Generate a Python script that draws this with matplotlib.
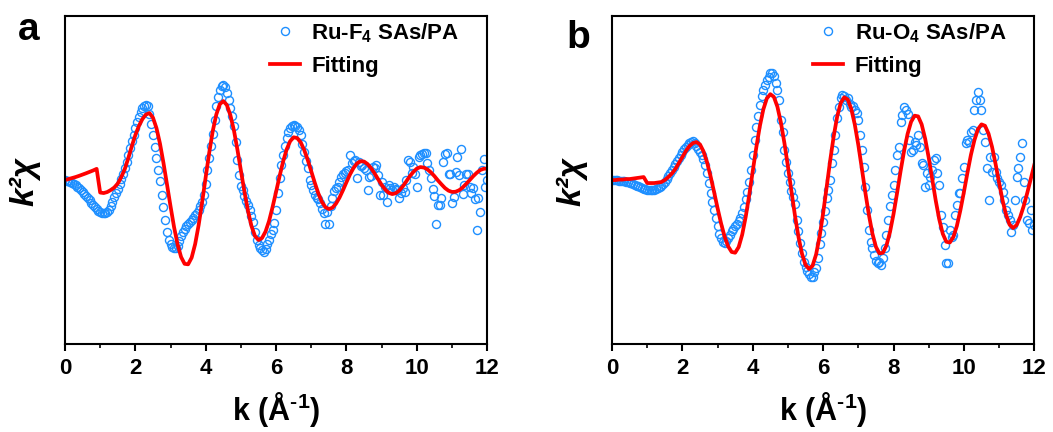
import numpy as np
import matplotlib
matplotlib.use("Agg")
import matplotlib.pyplot as plt

plt.rcParams['font.family'] = ['Liberation Sans', 'DejaVu Sans']
plt.rcParams['font.weight'] = 'bold'
plt.rcParams['mathtext.fontset'] = 'custom'
plt.rcParams['mathtext.rm'] = 'Liberation Sans:bold'
plt.rcParams['mathtext.it'] = 'Liberation Sans:italic:bold'
plt.rcParams['mathtext.bf'] = 'Liberation Sans:bold'

# k grids (data every 0.05, fit every 0.1)
k_data = np.arange(241) / 20
k_fit = np.arange(121) / 10

# panel a : Ru-F4 SAs/PA
data_a = [
    0.00, -0.005, -0.01, -0.02, -0.03, -0.04, -0.05, -0.065, -0.08, -0.10, -0.12, -0.14, -0.16, -0.18, -0.20, -0.225, -0.25, -0.27, -0.29, -0.305,
    -0.315, -0.325, -0.33, -0.33, -0.32, -0.30, -0.26, -0.22, -0.17, -0.13, -0.09, -0.04, 0.01, 0.06, 0.12, 0.18, 0.25, 0.32, 0.39, 0.45,
    0.52, 0.58, 0.63, 0.68, 0.72, 0.74, 0.75, 0.74, 0.66, 0.56, 0.45, 0.33, 0.22, 0.10, -0.01, -0.15, -0.27, -0.40, -0.52, -0.60,
    -0.64, -0.67, -0.68, -0.68, -0.66, -0.61, -0.56, -0.52, -0.49, -0.46, -0.44, -0.42, -0.40, -0.38, -0.35, -0.33, -0.30, -0.26, -0.22, -0.15,
    -0.04, 0.10, 0.22, 0.34, 0.46, 0.60, 0.74, 0.83, 0.90, 0.94, 0.95, 0.93, 0.87, 0.80, 0.72, 0.64, 0.54, 0.38, 0.20, 0.05,
    -0.06, -0.10, -0.16, -0.21, -0.25, -0.30, -0.36, -0.42, -0.52, -0.60, -0.65, -0.68, -0.70, -0.72, -0.69, -0.64, -0.60, -0.54, -0.50, -0.43,
    -0.30, -0.13, 0.02, 0.15, 0.25, 0.34, 0.42, 0.48, 0.52, 0.54, 0.55, 0.54, 0.53, 0.50, 0.45, 0.36, 0.28, 0.19, 0.12, 0.00,
    -0.05, -0.10, -0.15, -0.18, -0.19, -0.23, -0.29, -0.33, -0.44, -0.32, -0.44, -0.26, -0.18, -0.11, -0.08, -0.07, -0.02, 0.03, 0.06, 0.07,
    0.09, 0.10, 0.25, 0.17, 0.19, 0.20, 0.02, 0.18, 0.14, 0.15, 0.12, 0.10, -0.10, 0.03, 0.04, 0.13, 0.12, 0.15, 0.05, -0.15,
    -0.02, -0.15, -0.07, -0.22, -0.05, -0.08, -0.10, -0.07, -0.09, -0.10, -0.18, -0.13, -0.08, -0.12, 0.00, 0.20, 0.18, 0.07, 0.13, 0.06,
    -0.07, 0.23, 0.25, 0.26, 0.27, 0.27, 0.17, 0.10, 0.02, -0.09, -0.16, -0.44, -0.25, -0.25, -0.18, 0.18, 0.26, 0.27, 0.06, 0.06,
    -0.23, -0.17, 0.08, 0.23, 0.05, 0.31, -0.14, -0.05, 0.06, 0.06, -0.07, -0.13, -0.08, -0.19, -0.50, -0.18, -0.32, 0.10, 0.21, -0.07,
    0.00,
]
fit_a = [
    0.000, 0.010, 0.020, 0.030, 0.042, 0.055, 0.068, 0.082, 0.096, 0.112,
    -0.125, -0.130, -0.120, -0.100, -0.075, -0.035, 0.030, 0.110, 0.220, 0.340,
    0.450, 0.540, 0.610, 0.655, 0.670, 0.625, 0.520, 0.365, 0.170, -0.045,
    -0.263, -0.470, -0.643, -0.770, -0.838, -0.843, -0.776, -0.640, -0.448, -0.217,
    0.032, 0.275, 0.490, 0.655, 0.759, 0.790, 0.751, 0.650, 0.500, 0.306,
    0.095, -0.116, -0.307, -0.460, -0.560, -0.600, -0.580, -0.515, -0.410, -0.270,
    -0.117, 0.040, 0.186, 0.307, 0.389, 0.428, 0.420, 0.377, 0.300, 0.200,
    0.087, -0.028, -0.133, -0.217, -0.271, -0.290, -0.277, -0.237, -0.177, -0.102,
    -0.021, 0.056, 0.121, 0.167, 0.189, 0.185, 0.160, 0.119, 0.066, 0.008,
    -0.049, -0.095, -0.128, -0.140, -0.132, -0.105, -0.063, -0.013, 0.039, 0.081,
    0.115, 0.130, 0.125, 0.107, 0.077, 0.039, -0.004, -0.043, -0.080, -0.106,
    -0.119, -0.117, -0.102, -0.075, -0.039, -0.001, 0.038, 0.072, 0.100, 0.113,
    0.115,
]

# panel b : Ru-O4 SAs/PA
data_b = [
    0.00, 0.00, 0.00, 0.00, -0.005, -0.005, -0.01, -0.01, -0.015, -0.02, -0.025, -0.03, -0.035, -0.045, -0.055, -0.06, -0.07, -0.08, -0.085, -0.09,
    -0.095, -0.10, -0.10, -0.10, -0.095, -0.09, -0.08, -0.07, -0.055, -0.04, -0.02, 0.01, 0.04, 0.07, 0.10, 0.13, 0.16, 0.19, 0.22, 0.25,
    0.28, 0.31, 0.33, 0.35, 0.37, 0.385, 0.39, 0.37, 0.34, 0.31, 0.28, 0.25, 0.21, 0.15, 0.07, -0.03, -0.13, -0.22, -0.30, -0.38,
    -0.46, -0.54, -0.58, -0.62, -0.63, -0.61, -0.58, -0.55, -0.51, -0.49, -0.46, -0.44, -0.41, -0.38, -0.33, -0.27, -0.19, -0.12, -0.02, 0.10,
    0.25, 0.40, 0.53, 0.64, 0.75, 0.84, 0.90, 0.95, 1.00, 1.03, 1.07, 1.07, 1.04, 0.97, 0.90, 0.80, 0.60, 0.48, 0.30, 0.18,
    0.07, -0.02, -0.11, -0.17, -0.24, -0.40, -0.51, -0.63, -0.73, -0.82, -0.87, -0.91, -0.94, -0.97, -0.97, -0.92, -0.88, -0.78, -0.64, -0.53,
    -0.42, -0.31, -0.18, -0.10, 0.00, 0.17, 0.30, 0.45, 0.62, 0.73, 0.82, 0.85, 0.84, 0.80, 0.82, 0.76, 0.73, 0.74, 0.70, 0.67,
    0.60, 0.45, 0.30, 0.13, -0.07, -0.30, -0.50, -0.62, -0.68, -0.75, -0.81, -0.83, -0.82, -0.85, -0.78, -0.68, -0.55, -0.40, -0.26, -0.15,
    -0.05, 0.10, 0.25, 0.33, 0.58, 0.65, 0.73, 0.70, 0.66, 0.40, 0.28, 0.30, 0.38, 0.35, 0.45, 0.33, 0.17, 0.15, -0.07, 0.07,
    -0.05, 0.03, 0.10, 0.20, 0.22, 0.07, -0.05, -0.35, -0.47, -0.65, -0.83, -0.83, -0.50, -0.57, -0.55, -0.35, -0.25, -0.13, -0.13, 0.02,
    0.13, 0.37, 0.40, 0.38, 0.48, 0.50, 0.70, 0.80, 0.88, 0.80, 0.70, 0.50, 0.38, 0.12, -0.20, 0.23, 0.08, 0.23, 0.08, 0.02,
    -0.02, -0.05, -0.12, -0.20, -0.30, -0.35, -0.40, -0.52, -0.45, -0.20, 0.03, 0.12, 0.23, 0.37, -0.02, -0.20, -0.40, -0.43, -0.30, -0.50,
    -0.45,
]
fit_b = [
    0.000, 0.000, 0.005, 0.005, 0.010, 0.010, 0.015, 0.020, 0.025, 0.030,
    -0.030, -0.030, -0.030, -0.025, -0.020, 0.000, 0.030, 0.065, 0.110, 0.170,
    0.230, 0.290, 0.340, 0.370, 0.380, 0.357, 0.287, 0.179, 0.039, -0.118,
    -0.281, -0.434, -0.565, -0.663, -0.719, -0.727, -0.670, -0.546, -0.367, -0.150,
    0.090, 0.325, 0.537, 0.706, 0.817, 0.859, 0.832, 0.734, 0.575, 0.370,
    0.135, -0.113, -0.356, -0.570, -0.738, -0.848, -0.890, -0.857, -0.744, -0.563,
    -0.331, -0.071, 0.195, 0.437, 0.637, 0.771, 0.828, 0.806, 0.712, 0.555,
    0.351, 0.116, -0.125, -0.347, -0.535, -0.668, -0.734, -0.727, -0.654, -0.520,
    -0.341, -0.132, 0.086, 0.290, 0.461, 0.583, 0.644, 0.637, 0.557, 0.413,
    0.225, 0.010, -0.205, -0.393, -0.537, -0.617, -0.625, -0.570, -0.460, -0.303,
    -0.121, 0.071, 0.252, 0.400, 0.509, 0.557, 0.543, 0.465, 0.332, 0.162,
    -0.025, -0.204, -0.349, -0.447, -0.480, -0.450, -0.370, -0.260, -0.130, 0.010,
    0.150,
]

panels = [
    ('a', 'Ru-F$_\\mathregular{4}$ SAs/PA', data_a, fit_a),
    ('b', 'Ru-O$_\\mathregular{4}$ SAs/PA', data_b, fit_b),
]
lefts = [0.0617, 0.5812]
letter_pos = [(0.027, 0.93), (0.549, 0.912)]

fig = plt.figure(figsize=(10.53, 4.32), dpi=100)

for i, (letter, name, data, fit) in enumerate(panels):
    ax = fig.add_axes([lefts[i], 0.2037, 0.401, 0.759])
    ax.plot(k_data, data, 'o', mfc='none', mec='#1E8FFF', ms=5.8, mew=1.0, label=name)
    ax.plot(k_fit, fit, '-', color='#FF0000', lw=2.7, label='Fitting')

    ax.set_xlim(0, 12)
    ax.set_ylim(-1.64, 1.64)
    ax.set_xticks([0, 2, 4, 6, 8, 10, 12])
    ax.set_xticks(range(13), minor=True)
    ax.set_yticks([])
    ax.tick_params(axis='x', which='major', direction='out', length=5, width=1.5,
                   labelsize=16, pad=5)
    ax.tick_params(axis='x', which='minor', direction='out', length=3, width=1.2)
    for lab in ax.get_xticklabels():
        lab.set_fontweight('bold')
    for sp in ax.spines.values():
        sp.set_linewidth(1.5)

    ax.set_xlabel('k (Å$^{\\text{-1}}$)', fontsize=22, fontweight='bold', labelpad=8)
    ax.legend(loc='upper right', bbox_to_anchor=(0.955, 1.012), frameon=False,
              numpoints=1, handlelength=1.35,
              prop={'weight': 'bold', 'size': 16}, borderaxespad=0.0,
              labelspacing=0.5, handletextpad=0.5)

    fig.text(letter_pos[i][0], letter_pos[i][1], letter, fontsize=28,
             fontweight='bold', ha='center', va='center')
    fig.text(lefts[i] - 0.038, 0.58, 'k²χ', fontsize=24, fontweight='bold',
             fontstyle='italic', rotation=90, ha='center', va='center')

fig.savefig('out.png', dpi=100)
